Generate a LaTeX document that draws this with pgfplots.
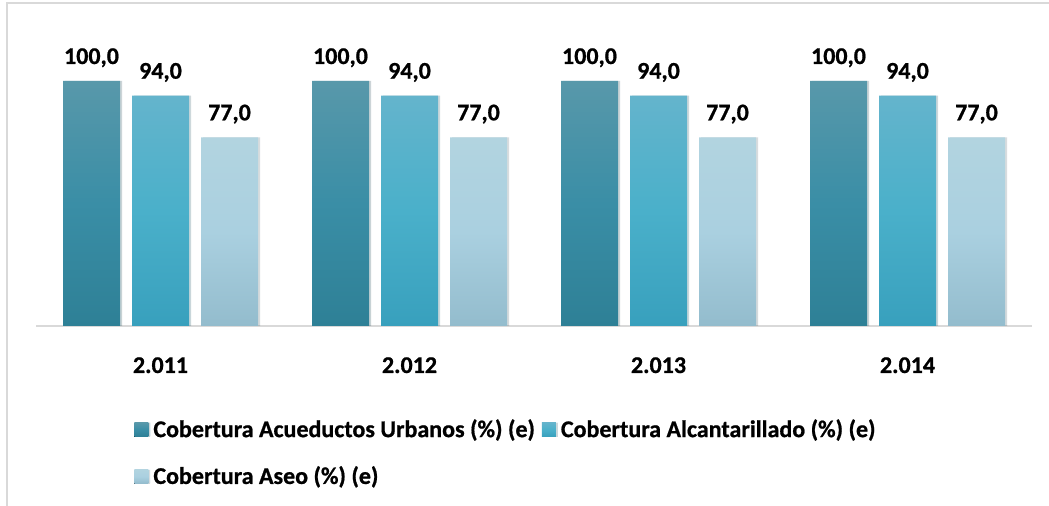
\documentclass[border=0pt]{standalone}
\usepackage{fontspec}
\setmainfont{Carlito}[BoldFont={Carlito Bold}, BoldFeatures={FakeBold=0.8}]
\usepackage{pgfplots}
\pgfplotsset{compat=1.18}
\usetikzlibrary{shadows}

\definecolor{acuTop}{HTML}{5898AA}
\definecolor{acuMid}{HTML}{3A8EA6}
\definecolor{acuBot}{HTML}{2E8096}
\definecolor{alcTop}{HTML}{64B4CC}
\definecolor{alcMid}{HTML}{4AB0CA}
\definecolor{alcBot}{HTML}{38A0BD}
\definecolor{aseTop}{HTML}{B2D4E0}
\definecolor{aseMid}{HTML}{AAD0E0}
\definecolor{aseBot}{HTML}{93BCCD}
\definecolor{frame}{HTML}{D9D9D9}

\tikzset{
  acu/.style={draw=none, top color=acuTop, bottom color=acuBot, middle color=acuMid},
  alc/.style={draw=none, top color=alcTop, bottom color=alcBot, middle color=alcMid},
  ase/.style={draw=none, top color=aseTop, bottom color=aseBot, middle color=aseMid},
  barshadow/.style={drop shadow={shadow xshift=1pt, shadow yshift=0pt, opacity=0.13, fill=black}},
}
\newcommand{\lbl}{\fontsize{12}{14}\selectfont\bfseries}

\begin{document}
\begin{tikzpicture}
\begin{axis}[
    at={(0,0)}, anchor=south west,
    scale only axis, width=498pt, height=147pt,
    ybar=6pt, bar width=28.5pt,
    xmin=-0.5, xmax=3.5, ymin=0, ymax=120,
    axis x line*=bottom, axis y line=none,
    x axis line style={frame, line width=1pt, -},
    xtick=data, xticklabels={2.011,2.012,2.013,2.014},
    major tick length=0pt,
    xticklabel style={font=\lbl, anchor=base, inner sep=0pt, yshift=-23.5pt},
    /pgf/number format/assume math mode=true,
    /pgf/number format/.cd, fixed, fixed zerofill, precision=1, use comma,
    /pgfplots/.cd,
    nodes near coords={\lbl\pgfmathprintnumber{\pgfplotspointmeta}},
    every node near coord/.append style={font=\lbl, anchor=base, inner sep=0pt, yshift=8.5pt},
    legend columns=2,
    legend cell align=left,
    legend style={at={(rel axis cs:0.0984,-0.316)}, anchor=north west,
      draw=none, fill=none, inner sep=0pt, font=\lbl, row sep=13pt,
      nodes={inner sep=0pt},
      /tikz/every odd column/.append style={column sep=2.5pt},
      /tikz/every even column/.append style={column sep=3.5pt}},
    clip=false,
  ]
\addplot[acu, barshadow,
  legend image code/.code={\fill[acu] (0pt,-3.5pt) rectangle (7pt,3.5pt);}]
  coordinates {(0,100) (1,100) (2,100) (3,100)};
\addplot[alc, barshadow,
  legend image code/.code={\fill[alc] (0pt,-3.5pt) rectangle (7pt,3.5pt);}]
  coordinates {(0,94) (1,94) (2,94) (3,94)};
\addplot[ase, barshadow,
  legend image code/.code={\fill[ase] (0pt,-3.5pt) rectangle (7pt,3.5pt);}]
  coordinates {(0,77) (1,77) (2,77) (3,77)};
\legend{Cobertura Acueductos Urbanos (\%) (e), Cobertura Alcantarillado (\%) (e), Cobertura Aseo (\%) (e)}
\end{axis}
\draw[frame, line width=1pt] (-14.5pt,-90pt) -- (-14.5pt,161.5pt) -- (506.5pt,161.5pt);
\pgfresetboundingbox
\path[use as bounding box] (-18pt,-90pt) rectangle (506.5pt,163pt);
\end{tikzpicture}
\end{document}
